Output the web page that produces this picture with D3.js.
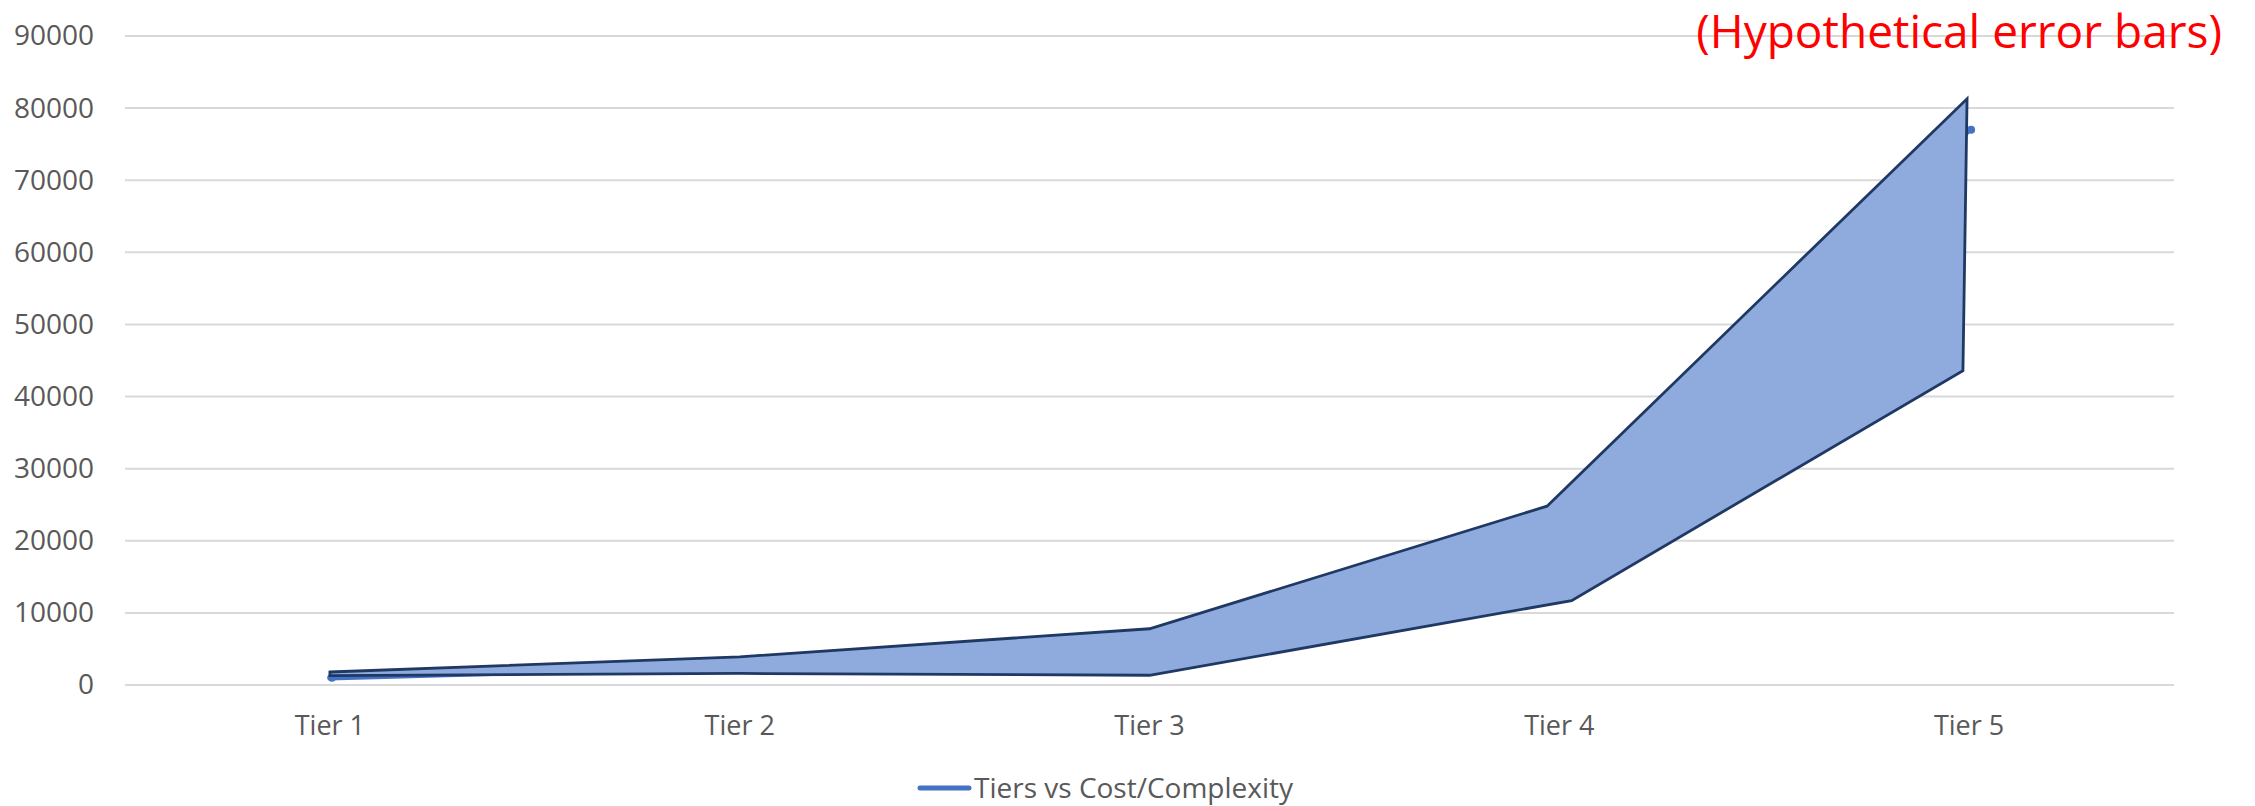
<!DOCTYPE html>
<html>
<head>
<meta charset="utf-8">
<script src="https://cdn.jsdelivr.net/npm/d3@7/dist/d3.min.js"></script>
<style>
  html, body { margin: 0; padding: 0; background: #ffffff; }
  svg { display: block; }
  text { font-family: "Open Sans", "Noto Sans", sans-serif; }
</style>
</head>
<body>
<svg id="chart" width="2255" height="806"></svg>
<script>
// ---- data ----
const categories = ["Tier 1", "Tier 2", "Tier 3", "Tier 4", "Tier 5"];
const seriesName = "Tiers vs Cost/Complexity";
const seriesValues = [1000, 2600, 4500, 18000, 77000];
// hypothetical error band (hand-drawn shape), positions in category-index units
const upperPos = [0, 1, 2, 2.97, 3.995];
const upperValues = [1800, 3900, 7800, 24800, 81300];
const lowerPos = [0, 1, 2, 3.03, 3.985];
const lowerValues = [1300, 1600, 1350, 11700, 43600];
const yTicks = [0, 10000, 20000, 30000, 40000, 50000, 60000, 70000, 80000, 90000];
const titleText = "(Hypothetical error bars)";

// ---- layout ----
const svg = d3.select("#chart");
const plot = { left: 125, right: 2174, top: 36, bottom: 685 };

const x = d3.scaleBand().domain(categories).range([plot.left, plot.right]);
const xi = d3.scaleLinear().domain([0, 1]).range([x(categories[0]) + x.bandwidth() / 2, x(categories[1]) + x.bandwidth() / 2]);
const y = d3.scaleLinear().domain([0, 90000]).range([plot.bottom, plot.top]);

// gridlines
svg.append("g")
  .selectAll("line")
  .data(yTicks)
  .join("line")
  .attr("x1", plot.left).attr("x2", plot.right)
  .attr("y1", d => y(d)).attr("y2", d => y(d))
  .attr("stroke", "#d9d9d9").attr("stroke-width", 2);

// y axis labels
const yAxis = d3.axisLeft(y).tickValues(yTicks).tickSize(0).tickPadding(0).tickFormat(d3.format("d"));
const gy = svg.append("g").attr("transform", `translate(94,0)`).call(yAxis);
gy.select(".domain").remove();
gy.selectAll("text").attr("font-size", 28).attr("fill", "#595959").attr("font-family", "'Open Sans', sans-serif");

// x axis labels
const xAxis = d3.axisBottom(x).tickSize(0).tickPadding(0);
const gx = svg.append("g").attr("transform", `translate(0,716)`).call(xAxis);
gx.select(".domain").remove();
gx.selectAll("text").attr("font-size", 27).attr("fill", "#595959").attr("font-family", "'Open Sans', sans-serif");

// main series line (underneath)
const line = d3.line().x((d, i) => x(categories[i]) + x.bandwidth() / 2).y(d => y(d));
svg.append("path")
  .datum(seriesValues)
  .attr("d", line)
  .attr("fill", "none")
  .attr("stroke", "#4472c4")
  .attr("stroke-width", 5.5)
  .attr("stroke-linecap", "round");

svg.append("g").selectAll("circle")
  .data(seriesValues)
  .join("circle")
  .attr("cx", (d, i) => x(categories[i]) + x.bandwidth() / 2 + 2)
  .attr("cy", d => y(d))
  .attr("r", 4)
  .attr("fill", "#4472c4");

// error band polygon on top
const bandPts = upperValues.map((v, i) => [xi(upperPos[i]), y(v)])
  .concat(lowerValues.map((v, i) => [xi(lowerPos[i]), y(v)]).reverse());
svg.append("path")
  .attr("d", "M" + bandPts.map(p => p.join(",")).join("L") + "Z")
  .attr("fill", "#8faadc")
  .attr("stroke", "#1f3864")
  .attr("stroke-width", 2.8)
  .attr("stroke-linejoin", "miter");

// legend
const lg = svg.append("g");
lg.append("line")
  .attr("x1", 920).attr("x2", 969).attr("y1", 788).attr("y2", 788)
  .attr("stroke", "#4472c4").attr("stroke-width", 5).attr("stroke-linecap", "round");
lg.append("text")
  .attr("x", 974).attr("y", 788).attr("dy", "0.35em")
  .attr("font-size", 28).attr("fill", "#595959")
  .text(seriesName);

// title annotation
svg.append("text")
  .attr("x", 2222).attr("y", 48)
  .attr("text-anchor", "end")
  .attr("font-size", 46).attr("fill", "#ff0000")
  .text(titleText);
</script>
</body>
</html>
